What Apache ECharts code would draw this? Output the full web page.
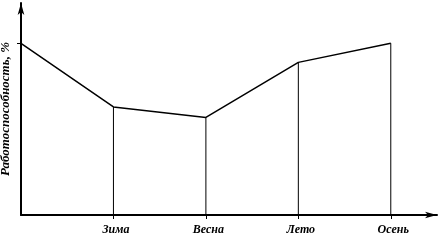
<!DOCTYPE html>
<html><head><meta charset="utf-8">
<script src="https://cdn.jsdelivr.net/npm/echarts@6/dist/echarts.min.js"></script>
<style>html,body{margin:0;padding:0;background:#fff}#c{width:441px;height:240px}</style>
</head><body><div id="c"></div>
<script>
const categories = ['', 'Зима', 'Весна', 'Лето', 'Осень'];
const values = [81, 51, 46, 72, 81];
const yName = 'Работоспособность, %';
const yTick = [81];

const pts = values.map((v, i) => [i, v]);
const drops = values.map((v, i) => [i, v]).slice(1);
const font = '"Liberation Serif", serif';
const chart = echarts.init(document.getElementById('c'), null, {renderer: 'canvas'});
chart.setOption({
  animation: false,
  grid: {left: 21, right: 4, top: 3, bottom: 25, outerBoundsMode: 'none', containLabel: false},
  xAxis: {
    type: 'value', min: 0, max: 4.5, interval: 1,
    splitLine: {show: false},
    axisLine: {lineStyle: {color: '#000', width: 2}, symbol: ['none', 'arrow'], symbolSize: [5, 12]},
    axisTick: {show: true, customValues: [1, 2, 3, 4], length: 4, lineStyle: {color: '#000', width: 1}},
    axisLabel: {customValues: [1, 2, 3, 4], formatter: v => categories[Math.round(v)] || '', color: '#000',
      fontFamily: font, fontWeight: 'bold', fontStyle: 'italic', fontSize: 12, margin: 9, padding: [0, 0, 0, 5]}
  },
  yAxis: {
    type: 'value', min: 0, max: 100,
    name: yName, nameLocation: 'middle', nameGap: 9, nameRotate: 90,
    nameTextStyle: {color: '#000', fontFamily: font, fontWeight: 'bold', fontStyle: 'italic', fontSize: 13, padding: [0, 0, 0, 0]},
    splitLine: {show: false},
    axisLine: {lineStyle: {color: '#000', width: 2}, symbol: ['none', 'arrow'], symbolSize: [5, 12]},
    axisTick: {show: true, customValues: yTick, length: 4, lineStyle: {color: '#000', width: 1}},
    axisLabel: {show: false}
  },
  series: [
    {type: 'bar', data: drops, barWidth: 1, itemStyle: {color: '#000'}, silent: true},
    {type: 'line', data: pts, symbol: 'none', lineStyle: {color: '#000', width: 1.5}, silent: true}
  ]
});
</script></body></html>
